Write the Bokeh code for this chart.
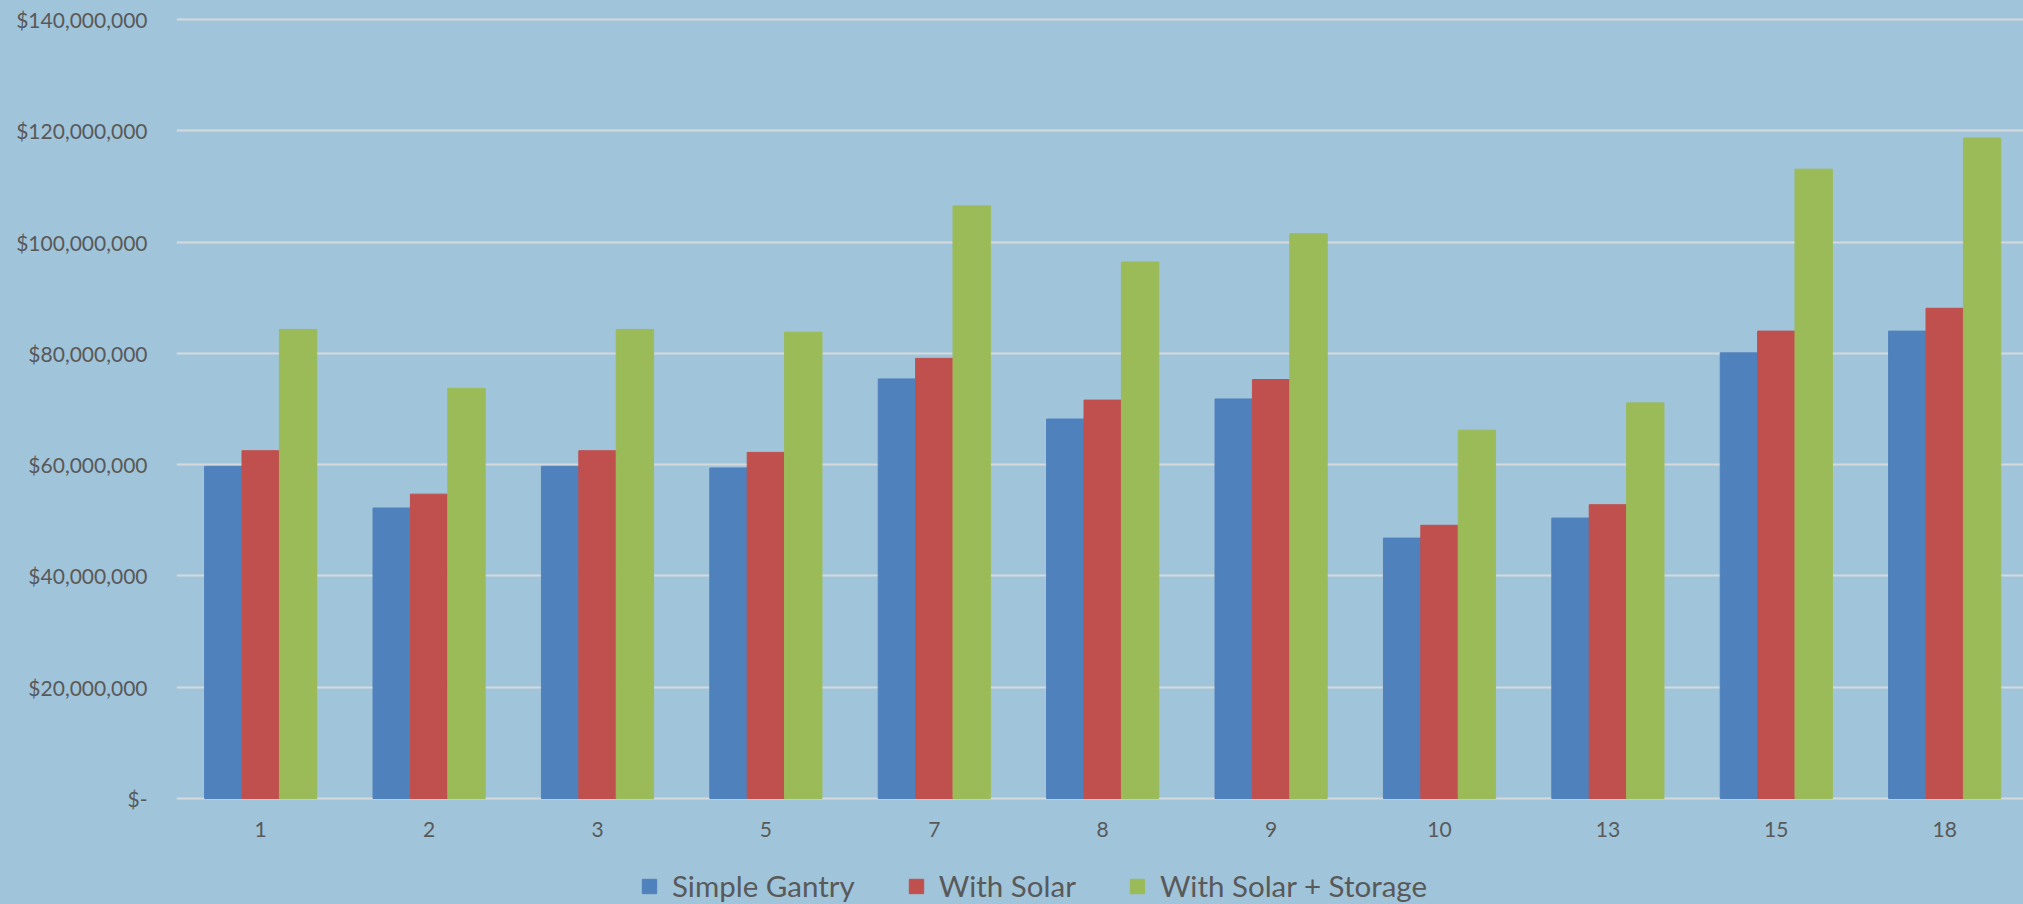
from bokeh.plotting import figure
from bokeh.models import (Range1d, FixedTicker, Legend, LegendItem, ColumnDataSource)
from bokeh.core.properties import value
from bokeh.transform import dodge
from bokeh.embed import file_html
from bokeh.resources import INLINE

# ---- data ----
categories = ["1", "2", "3", "5", "7", "8", "9", "10", "13", "15", "18"]
simple_gantry = [59.7e6, 52.2e6, 59.7e6, 59.4e6, 75.4e6, 68.2e6, 71.8e6, 46.8e6, 50.4e6, 80.1e6, 84.0e6]
with_solar = [62.5e6, 54.7e6, 62.5e6, 62.2e6, 79.1e6, 71.6e6, 75.3e6, 49.1e6, 52.8e6, 84.0e6, 88.1e6]
with_solar_storage = [84.3e6, 73.7e6, 84.3e6, 83.8e6, 106.5e6, 96.4e6, 101.5e6, 66.2e6, 71.1e6, 113.1e6, 118.7e6]
series_names = ["Simple Gantry", "With Solar", "With Solar + Storage"]
series_colors = ["#4F81BD", "#C0504D", "#9BBB59"]
y_ticks = [0, 20e6, 40e6, 60e6, 80e6, 100e6, 120e6, 140e6]
y_tick_labels = ["$-", "$20,000,000", "$40,000,000", "$60,000,000", "$80,000,000",
                 "$100,000,000", "$120,000,000", "$140,000,000"]

FONT = "Lato"
TEXT = "#595959"
BG = "#A0C4DA"
GRID = "#D6D9DC"

positions = list(range(len(categories)))
src = ColumnDataSource(dict(x=positions, s0=simple_gantry, s1=with_solar, s2=with_solar_storage,
                            base=[0] * len(categories), label=categories))

W, H = 2023, 904
left = 176
top_value_px = 19           # screen row of the value 140M
frame_top = 12              # frame starts a little above the top gridline
axis_zero_px = 798          # screen row of the value 0
frame_w = W - left
band = 168.4                # pixels per category
x_span = frame_w / band
ppu = (axis_zero_px - top_value_px) / 140e6
y_start = -(H - axis_zero_px) / ppu
y_end = 140e6 + (top_value_px - frame_top) / ppu

p = figure(width=W, height=H, output_backend="svg", toolbar_location=None,
           x_range=Range1d(-0.5, -0.5 + x_span), y_range=Range1d(y_start, y_end),
           min_border_left=left, min_border_right=0, min_border_top=frame_top,
           min_border_bottom=0)
p.background_fill_color = BG
p.border_fill_color = BG
p.outline_line_color = None

bw = 0.222
renderers = []
for i, (col, name, color) in enumerate(zip(["s0", "s1", "s2"], series_names, series_colors)):
    r = p.vbar(x=dodge("x", (i - 1) * bw, range=p.x_range), top=col, width=bw, bottom=0,
               source=src, fill_color=color, line_color=color, line_width=1)
    renderers.append(r)

# grid (includes the zero / category axis line)
p.xgrid.visible = False
p.ygrid.ticker = FixedTicker(ticks=y_ticks)
p.ygrid.grid_line_color = GRID
p.ygrid.grid_line_width = 2

# y axis
ya = p.yaxis[0]
ya.ticker = FixedTicker(ticks=y_ticks)
ya.major_label_overrides = {t: lab for t, lab in zip(y_ticks, y_tick_labels)}
ya.axis_line_color = None
ya.major_tick_line_color = None
ya.minor_tick_line_color = None
ya.major_tick_out = 0
ya.major_label_standoff = 29
ya.major_label_text_font = FONT
ya.major_label_text_font_size = "21px"
ya.major_label_text_color = TEXT

# category labels under the zero line
p.xaxis.visible = False
p.text(x="x", y="base", text="label", source=src, y_offset=31, text_align="center",
       text_baseline="middle", text_font=value(FONT), text_font_size="21px", text_color=TEXT)

legend = Legend(items=[LegendItem(label=n, renderers=[r]) for n, r in zip(series_names, renderers)],
                orientation="horizontal", location=(464, 1),
                glyph_width=18, glyph_height=18, label_standoff=14, spacing=52,
                padding=0, margin=0,
                label_text_font=FONT, label_text_font_size="29.5px", label_text_color=TEXT,
                background_fill_alpha=0, border_line_alpha=0)
p.add_layout(legend, "center")

html = file_html(p, INLINE)
html = html.replace("<head>", "<head><style>html,body{margin:0;background:%s;}</style>" % BG, 1)
open("out.html", "w").write(html)
